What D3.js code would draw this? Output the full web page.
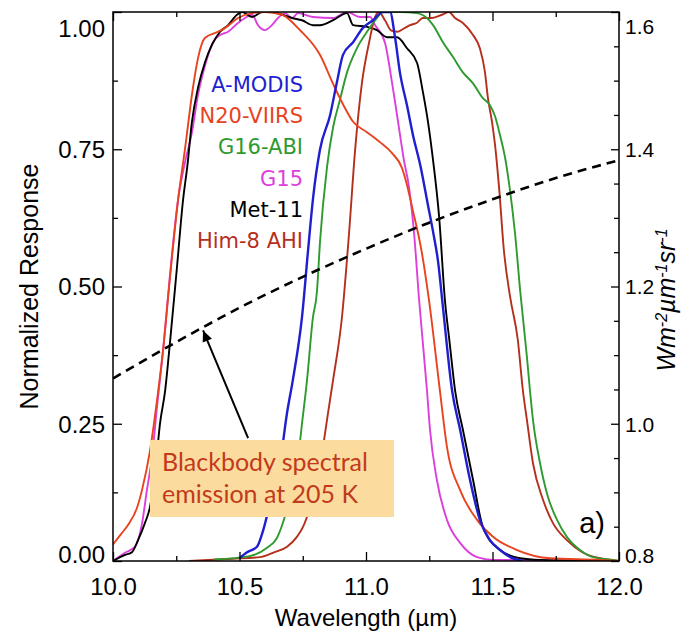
<!DOCTYPE html>
<html><head><meta charset="utf-8">
<script src="https://cdn.jsdelivr.net/npm/d3@7"></script>
<style>body{margin:0;background:#fff}</style>
</head><body>
<svg id="c" width="684" height="636"></svg>
<script>
// ---------- data ----------
const wavelengthTicks = [10.0, 10.5, 11.0, 11.5, 12.0];
const responseTicks = [0, 0.25, 0.5, 0.75, 1.0];
const radianceTicks = [0.8, 1.0, 1.2, 1.4, 1.6];

const seriesNames  = ["A-MODIS", "N20-VIIRS", "G16-ABI", "G15", "Met-11", "Him-8 AHI"];
const seriesColors = ["#1f1fd0", "#e8431f", "#2f9a2f", "#dd3fdd", "#000000", "#b5301c"];

// [wavelength (µm), normalized response]
const aModis = [[10.5,0.005],[10.53,0.016],[10.569,0.026],[10.593,0.055],[10.621,0.106],[10.66,0.178],[10.688,0.27],[10.711,0.33],[10.747,0.444],[10.771,0.566],[10.79,0.658],[10.818,0.749],[10.858,0.812],[10.885,0.872],[10.909,0.922],[10.949,0.945],[10.988,0.971],[11.028,0.985],[11.067,1.0],[11.095,1.0],[11.115,0.953],[11.134,0.89],[11.162,0.83],[11.186,0.775],[11.215,0.72],[11.245,0.648],[11.265,0.6],[11.285,0.545],[11.304,0.463],[11.34,0.311],[11.372,0.239],[11.411,0.148],[11.45,0.075],[11.49,0.038],[11.53,0.02],[11.57,0.007],[11.62,0.0]];
const n20Viirs = [[10.0,0.03],[10.03,0.048],[10.06,0.066],[10.095,0.097],[10.115,0.13],[10.146,0.2],[10.174,0.293],[10.198,0.384],[10.226,0.52],[10.257,0.657],[10.285,0.752],[10.316,0.862],[10.336,0.916],[10.364,0.953],[10.415,0.964],[10.443,0.971],[10.494,0.989],[10.549,0.998],[10.601,1.0],[10.668,0.995],[10.739,0.967],[10.818,0.922],[10.87,0.869],[10.909,0.832],[10.949,0.80],[11.004,0.781],[11.055,0.763],[11.103,0.743],[11.142,0.716],[11.162,0.685],[11.182,0.645],[11.221,0.561],[11.249,0.475],[11.292,0.311],[11.32,0.208],[11.372,0.129],[11.439,0.075],[11.502,0.044],[11.597,0.02],[11.727,0.005],[11.925,0.002],[12.0,0.0]];
const g16Abi = [[10.4,0.003],[10.54,0.009],[10.609,0.024],[10.648,0.042],[10.672,0.07],[10.7,0.117],[10.727,0.17],[10.747,0.25],[10.767,0.33],[10.79,0.443],[10.806,0.49],[10.818,0.58],[10.846,0.718],[10.87,0.79],[10.897,0.84],[10.925,0.89],[10.964,0.934],[11.004,0.964],[11.043,0.989],[11.067,1.0],[11.134,1.0],[11.2,0.998],[11.241,0.989],[11.265,0.976],[11.304,0.945],[11.344,0.918],[11.383,0.89],[11.423,0.87],[11.462,0.843],[11.49,0.83],[11.51,0.81],[11.53,0.775],[11.55,0.734],[11.565,0.689],[11.589,0.597],[11.609,0.494],[11.636,0.372],[11.648,0.311],[11.66,0.257],[11.688,0.178],[11.719,0.117],[11.755,0.075],[11.794,0.044],[11.846,0.02],[11.897,0.007],[11.976,0.002],[12.0,0.0]];
const g15 = [[10.0,0.0],[10.047,0.015],[10.087,0.026],[10.115,0.069],[10.134,0.129],[10.154,0.189],[10.174,0.281],[10.198,0.384],[10.225,0.52],[10.257,0.658],[10.285,0.727],[10.312,0.781],[10.336,0.849],[10.364,0.903],[10.395,0.945],[10.423,0.958],[10.455,0.964],[10.494,0.98],[10.522,0.989],[10.55,0.995],[10.573,0.976],[10.6,0.967],[10.628,0.976],[10.652,0.989],[10.68,0.998],[10.708,0.989],[10.731,0.998],[10.79,0.991],[10.87,0.989],[10.925,1.0],[10.976,0.991],[11.016,0.991],[11.036,0.976],[11.075,0.944],[11.103,0.871],[11.13,0.79],[11.15,0.73],[11.17,0.681],[11.19,0.597],[11.21,0.475],[11.241,0.311],[11.253,0.239],[11.28,0.148],[11.32,0.075],[11.372,0.033],[11.439,0.007],[11.502,0.002],[12.0,0.0]];
const met11 = [[10.0,0.0],[10.047,0.011],[10.075,0.016],[10.099,0.038],[10.126,0.069],[10.146,0.098],[10.166,0.16],[10.186,0.251],[10.206,0.31],[10.225,0.397],[10.253,0.536],[10.277,0.658],[10.294,0.72],[10.312,0.80],[10.336,0.862],[10.364,0.909],[10.391,0.94],[10.423,0.964],[10.455,0.976],[10.49,0.995],[10.51,1.0],[10.55,0.991],[10.59,1.0],[10.628,1.0],[10.668,0.995],[10.708,0.989],[10.747,0.985],[10.79,0.976],[10.818,0.976],[10.87,0.985],[10.925,0.998],[10.949,0.976],[11.004,0.973],[11.043,0.967],[11.083,0.954],[11.123,0.954],[11.162,0.934],[11.202,0.907],[11.225,0.854],[11.245,0.80],[11.265,0.73],[11.289,0.627],[11.312,0.475],[11.33,0.40],[11.352,0.311],[11.383,0.239],[11.423,0.148],[11.462,0.062],[11.53,0.02],[11.609,0.005],[11.688,0.002],[12.0,0.0]];
const him8Ahi = [[10.3,0.0],[10.474,0.004],[10.58,0.007],[10.632,0.015],[10.688,0.026],[10.727,0.044],[10.751,0.062],[10.779,0.098],[10.806,0.148],[10.83,0.208],[10.85,0.27],[10.87,0.33],[10.905,0.444],[10.933,0.597],[10.957,0.749],[10.984,0.871],[11.012,0.944],[11.036,0.991],[11.051,1.0],[11.075,0.985],[11.1,0.966],[11.123,0.964],[11.15,0.97],[11.174,0.976],[11.2,0.98],[11.225,0.989],[11.261,0.989],[11.3,0.995],[11.328,1.0],[11.352,0.989],[11.383,0.98],[11.423,0.958],[11.45,0.934],[11.47,0.891],[11.482,0.843],[11.498,0.80],[11.51,0.758],[11.526,0.68],[11.545,0.566],[11.57,0.48],[11.6,0.403],[11.62,0.311],[11.636,0.257],[11.66,0.178],[11.7,0.111],[11.739,0.069],[11.794,0.038],[11.858,0.015],[11.925,0.005],[12.0,0.0]];

// blackbody radiance at 205 K, W m-2 µm-1 sr-1 (right axis)
const blackbodyWl  = [10.0, 10.25, 10.5, 10.75, 11.0, 11.25, 11.5, 11.75, 12.0];
const blackbodyRad = [1.066, 1.119, 1.169, 1.214, 1.255, 1.293, 1.327, 1.358, 1.384];

const seriesData = [aModis, n20Viirs, g16Abi, g15, met11, him8Ahi];
const drawOrder = [3, 4, 5, 2, 1, 0];

// ---------- layout ----------
const svg = d3.select("#c");
const L = 113, R = 619, T = 12, B = 561;
const x = d3.scaleLinear().domain([10, 12]).range([L, R]);
const y = d3.scaleLinear().domain([0, 1]).range([B, T]);
const y2 = d3.scaleLinear().domain([0.8, 1.6]).range([B, T]);

svg.append("rect").attr("width", 684).attr("height", 636).attr("fill", "#fff");

svg.append("defs").append("clipPath").attr("id", "plotclip")
  .append("rect").attr("x", L).attr("y", T).attr("width", R - L).attr("height", B - T);

const plot = svg.append("g").attr("clip-path", "url(#plotclip)");

const line = d3.line().x(d => x(d[0])).y(d => y(d[1])).curve(d3.curveMonotoneX);
drawOrder.forEach(i => {
  plot.append("path").datum(seriesData[i])
    .attr("d", line).attr("fill", "none")
    .attr("stroke", seriesColors[i])
    .attr("stroke-width", i === 0 ? 2.4 : 1.9)
    .attr("stroke-linejoin", "round");
});

// blackbody dashed curve
const bb = blackbodyWl.map((w, i) => [w, blackbodyRad[i]]);
plot.append("path").datum(bb)
  .attr("d", d3.line().x(d => x(d[0])).y(d => y2(d[1])).curve(d3.curveMonotoneX))
  .attr("fill", "none").attr("stroke", "#000").attr("stroke-width", 2.6)
  .attr("stroke-dasharray", "9,6");

// ---------- axes ----------
const tickFont = "'Liberation Sans', Arial, Helvetica, sans-serif";
function styleAxis(g, size) {
  g.select(".domain").remove();
  g.selectAll("line").attr("stroke", "#000").attr("stroke-width", 1.3);
  g.selectAll("text").attr("font-family", tickFont).attr("font-size", size).attr("fill", "#000");
}
const xMinor = d3.range(10.25, 12, 0.5);
const yMinor = d3.range(0.125, 1, 0.25);
const y2Minor = d3.range(0.85, 1.6, 0.05).filter(v => Math.abs((v - 0.8) / 0.2 - Math.round((v - 0.8) / 0.2)) > 0.01);

const gxB = svg.append("g").attr("transform", `translate(0,${B})`)
  .call(d3.axisBottom(x).tickValues(wavelengthTicks).tickFormat(d3.format(".1f")).tickSize(-9).tickPadding(17));
styleAxis(gxB, 24);
svg.append("g").attr("transform", `translate(0,${B})`)
  .call(d3.axisBottom(x).tickValues(xMinor).tickFormat("").tickSize(-5)).call(g => styleAxis(g, 24));
svg.append("g").attr("transform", `translate(0,${T})`)
  .call(d3.axisTop(x).tickValues(wavelengthTicks).tickFormat("").tickSize(-9)).call(g => styleAxis(g, 24));
svg.append("g").attr("transform", `translate(0,${T})`)
  .call(d3.axisTop(x).tickValues(xMinor).tickFormat("").tickSize(-5)).call(g => styleAxis(g, 24));

const gyL = svg.append("g").attr("transform", `translate(${L},0)`)
  .call(d3.axisLeft(y).tickValues(responseTicks).tickFormat(d3.format(".2f")).tickSize(-9).tickPadding(8));
styleAxis(gyL, 24);
gyL.selectAll(".tick text").attr("dy", d => d === 1 ? "1.0em" : d === 0 ? "0.05em" : "0.35em");
svg.append("g").attr("transform", `translate(${L},0)`)
  .call(d3.axisLeft(y).tickValues(yMinor).tickFormat("").tickSize(-5)).call(g => styleAxis(g, 24));

const gyR = svg.append("g").attr("transform", `translate(${R},0)`)
  .call(d3.axisRight(y2).tickValues(radianceTicks).tickFormat(d3.format(".1f")).tickSize(-8).tickPadding(6));
styleAxis(gyR, 21);
gyR.selectAll(".tick text").attr("dy", d => Math.abs(d - 1.6) < 1e-6 ? "1.0em" : Math.abs(d - 0.8) < 1e-6 ? "0.05em" : "0.35em");
svg.append("g").attr("transform", `translate(${R},0)`)
  .call(d3.axisRight(y2).tickValues(y2Minor).tickFormat("").tickSize(-5)).call(g => styleAxis(g, 21));

// frame
svg.append("rect").attr("x", L).attr("y", T).attr("width", R - L).attr("height", B - T)
  .attr("fill", "none").attr("stroke", "#000").attr("stroke-width", 1.5);

// axis titles
svg.append("text").attr("x", (L + R) / 2).attr("y", 626).attr("text-anchor", "middle")
  .attr("font-family", tickFont).attr("font-size", 24).text("Wavelength (µm)");
svg.append("text").attr("transform", `translate(38,${(T + B) / 2}) rotate(-90)`)
  .attr("text-anchor", "middle").attr("font-family", tickFont).attr("font-size", 25)
  .text("Normalized Response");
const rt = svg.append("text").attr("transform", `translate(675,300) rotate(-90)`)
  .attr("text-anchor", "middle").attr("font-family", tickFont).attr("font-size", 25)
  .attr("font-style", "italic");
[["Wm", false], ["-2", true], ["µm", false], ["-1", true], ["sr", false], ["-1", true]].forEach(([t, sup]) => {
  const s = rt.append("tspan").text(t);
  if (sup) s.attr("font-size", 16).attr("baseline-shift", "super");
});

// legend
const legFont = "'DejaVu Sans', Verdana, sans-serif";
seriesNames.forEach((n, i) => {
  svg.append("text").attr("x", 303).attr("y", 92 + i * 31.2).attr("text-anchor", "end")
    .attr("font-family", legFont).attr("font-size", 21).attr("fill", seriesColors[i]).text(n);
});

// panel label
svg.append("text").attr("x", 605).attr("y", 533).attr("text-anchor", "end")
  .attr("font-family", tickFont).attr("font-size", 29).text("a)");

// annotation box + arrow
const tipX = x(10.356), tipY = y2(1.136);
const tailX = x(10.534), tailY = y(0.224);
svg.append("line").attr("x1", tailX).attr("y1", tailY).attr("x2", tipX).attr("y2", tipY)
  .attr("stroke", "#000").attr("stroke-width", 2);
const ang = Math.atan2(tipY - tailY, tipX - tailX);
const ah = 11, aw = 5;
const p1 = [tipX - ah * Math.cos(ang) + aw * Math.sin(ang), tipY - ah * Math.sin(ang) - aw * Math.cos(ang)];
const p2 = [tipX - ah * Math.cos(ang) - aw * Math.sin(ang), tipY - ah * Math.sin(ang) + aw * Math.cos(ang)];
svg.append("path").attr("d", `M${tipX},${tipY}L${p1[0]},${p1[1]}L${p2[0]},${p2[1]}Z`).attr("fill", "#000");

svg.append("rect").attr("x", 150).attr("y", 440).attr("width", 244).attr("height", 77).attr("fill", "#fcdc9e");
const annFont = "Lato, 'Open Sans', sans-serif";
svg.append("text").attr("x", 162).attr("y", 471).attr("font-family", annFont).attr("font-size", 25)
  .attr("fill", "#c23a1c").text("Blackbody spectral");
svg.append("text").attr("x", 162).attr("y", 503).attr("font-family", annFont).attr("font-size", 25)
  .attr("fill", "#c23a1c").text("emission at 205 K");
</script>
</body></html>
